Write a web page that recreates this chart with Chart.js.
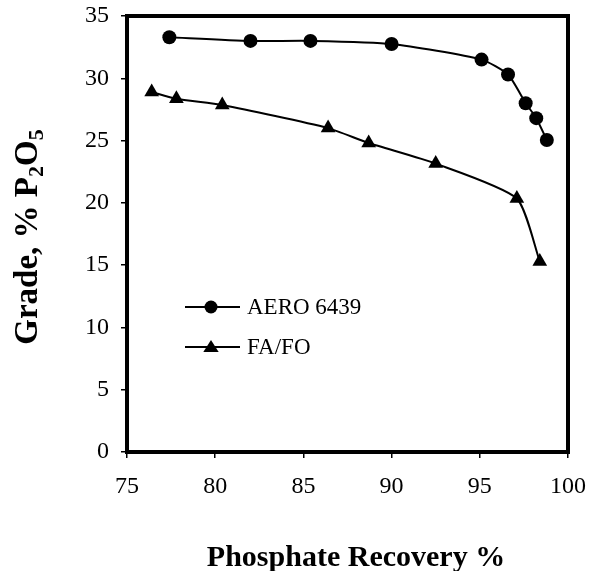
<!DOCTYPE html>
<html lang="en">
<head>
    <meta charset="UTF-8">
    <title>Grade vs Phosphate Recovery</title>
    <script src="https://cdn.jsdelivr.net/npm/chart.js"></script>
    <style>
        html, body { margin: 0; padding: 0; background: #fff; }
        #wrap { width: 590px; height: 571px; }
    </style>
</head>
<body>
    <div id="wrap"><canvas id="chart"></canvas></div>

    <script>
        // values
        const aeroRecovery = [77.4, 82.0, 85.4, 90.0, 95.1, 96.6, 97.6, 98.2, 98.8];
        const aeroGrade    = [33.3, 33.0, 33.0, 32.75, 31.5, 30.3, 28.0, 26.8, 25.05];
        const fafoRecovery = [76.4, 77.8, 80.4, 86.4, 88.7, 92.5, 97.1, 98.4];
        const fafoGrade    = [28.9, 28.35, 27.85, 26.0, 24.8, 23.15, 20.35, 15.3];
        const seriesNames  = ['AERO 6439', 'FA/FO'];
        const xTicks = [75, 80, 85, 90, 95, 100];
        const yTicks = [0, 5, 10, 15, 20, 25, 30, 35];

        const serif = "'Liberation Serif', 'Times New Roman', serif";

        function toPoints(xs, ys) {
            return xs.map((x, i) => ({ x: x, y: ys[i] }));
        }

        // frame, axis titles and the little legend inside the plot
        const decorations = {
            id: 'decorations',
            afterDraw(chart) {
                const ctx = chart.ctx;
                const area = chart.chartArea;
                ctx.save();

                // black box round the plot
                ctx.strokeStyle = '#000';
                ctx.lineWidth = 4;
                ctx.strokeRect(area.left, area.top, area.right - area.left, area.bottom - area.top);

                // x title
                ctx.fillStyle = '#000';
                ctx.font = 'bold 30px ' + serif;
                ctx.textAlign = 'center';
                ctx.textBaseline = 'alphabetic';
                ctx.fillText('Phosphate Recovery %', 356, 566);

                // y title with subscripts
                const big = 33, small = 22;
                const parts = [
                    { t: 'Grade, % P', f: big, dy: 0 },
                    { t: '2', f: small, dy: 6 },
                    { t: 'O', f: big, dy: 0 },
                    { t: '5', f: small, dy: 6 }
                ];
                let total = 0;
                parts.forEach(p => {
                    ctx.font = 'bold ' + p.f + 'px ' + serif;
                    p.w = ctx.measureText(p.t).width;
                    total += p.w;
                });
                ctx.translate(37, 237);
                ctx.rotate(-Math.PI / 2);
                ctx.textAlign = 'left';
                let px = -total / 2;
                parts.forEach(p => {
                    ctx.font = 'bold ' + p.f + 'px ' + serif;
                    ctx.fillText(p.t, px, p.dy);
                    px += p.w;
                });
                ctx.setTransform(1, 0, 0, 1, 0, 0);

                // legend
                const lx0 = 185, lx1 = 240, mx = 211;
                const rows = [307, 347];
                chart.data.datasets.forEach((ds, i) => {
                    const y = rows[i];
                    ctx.strokeStyle = '#000';
                    ctx.lineWidth = 2;
                    ctx.beginPath();
                    ctx.moveTo(lx0, y);
                    ctx.lineTo(lx1, y);
                    ctx.stroke();
                    ctx.fillStyle = '#000';
                    ctx.beginPath();
                    if (ds.pointStyle === 'triangle') {
                        const r = 7;
                        ctx.moveTo(mx, y - r);
                        ctx.lineTo(mx + r * 1.1, y + r * 0.7);
                        ctx.lineTo(mx - r * 1.1, y + r * 0.7);
                        ctx.closePath();
                    } else {
                        ctx.arc(mx, y, 6.5, 0, Math.PI * 2);
                    }
                    ctx.fill();
                    ctx.font = '23px ' + serif;
                    ctx.textAlign = 'left';
                    ctx.textBaseline = 'middle';
                    ctx.fillText(ds.label, lx1 + 7, y + 1);
                });
                ctx.restore();
            }
        };

        new Chart(document.getElementById('chart'), {
            type: 'line',
            data: {
                datasets: [
                    {
                        label: seriesNames[0],
                        data: toPoints(aeroRecovery, aeroGrade),
                        borderColor: '#000',
                        backgroundColor: '#000',
                        borderWidth: 2,
                        pointStyle: 'circle',
                        pointRadius: 7,
                        pointBorderWidth: 0,
                        tension: 0.2
                    },
                    {
                        label: seriesNames[1],
                        data: toPoints(fafoRecovery, fafoGrade),
                        borderColor: '#000',
                        backgroundColor: '#000',
                        borderWidth: 2,
                        pointStyle: 'triangle',
                        pointRadius: 8.5,
                        pointBorderWidth: 0,
                        tension: 0.2
                    }
                ]
            },
            options: {
                responsive: true,
                maintainAspectRatio: false,
                animation: false,
                layout: { padding: { top: 16, right: 22, left: 0, bottom: 0 } },
                plugins: {
                    legend: { display: false },
                    tooltip: { enabled: false }
                },
                scales: {
                    x: {
                        type: 'linear',
                        min: 75,
                        max: 100,
                        afterBuildTicks: (scale) => { scale.ticks = xTicks.map(v => ({ value: v })); },
                        afterFit: (scale) => {
                            scale.height = 119;
                            scale.paddingLeft = 0;
                            scale.paddingRight = 0;
                        },
                        ticks: { color: '#000', font: { family: serif, size: 24 }, padding: 14, maxRotation: 0 },
                        grid: { drawOnChartArea: false, drawTicks: true, tickLength: 6, color: '#000', lineWidth: 1.5 },
                        border: { display: false }
                    },
                    y: {
                        min: 0,
                        max: 35,
                        afterBuildTicks: (scale) => { scale.ticks = yTicks.map(v => ({ value: v })); },
                        afterFit: (scale) => {
                            scale.width = 127;
                            scale.paddingTop = 0;
                            scale.paddingBottom = 0;
                        },
                        ticks: { color: '#000', font: { family: serif, size: 24 }, padding: 12 },
                        grid: { drawOnChartArea: false, drawTicks: true, tickLength: 6, color: '#000', lineWidth: 1.5 },
                        border: { display: false }
                    }
                }
            },
            plugins: [decorations]
        });
    </script>
</body>
</html>
